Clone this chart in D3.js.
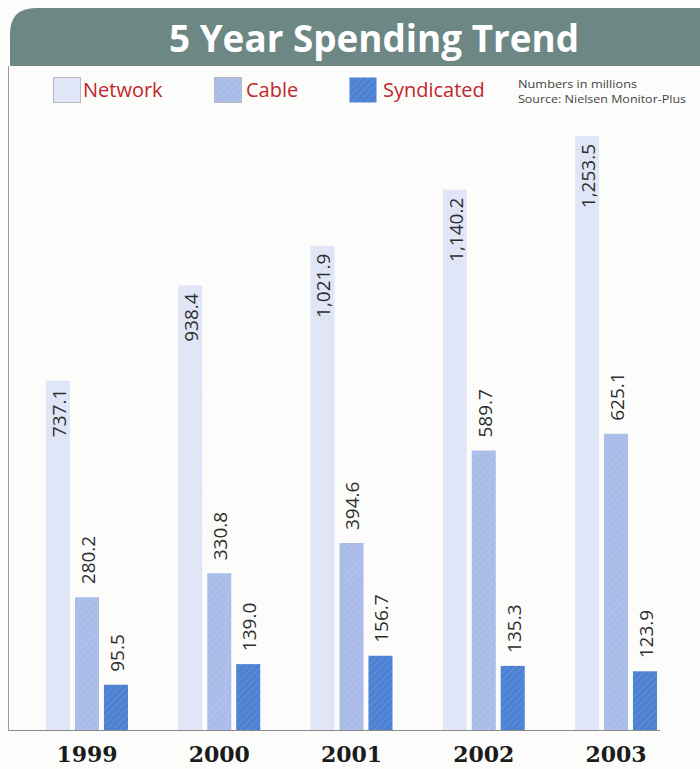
<!DOCTYPE html>
<html>
<head>
<meta charset="utf-8">
<script src="https://cdn.jsdelivr.net/npm/d3@7"></script>
<style>
  html, body { margin: 0; padding: 0; background: #fcfcfa; }
  svg { display: block; }
</style>
</head>
<body>
<svg id="chart" width="700" height="769"></svg>
<script>
// Spending by year, in millions
const years = ["1999", "2000", "2001", "2002", "2003"];
const network = [737.1, 938.4, 1021.9, 1140.2, 1253.5];
const cable = [280.2, 330.8, 394.6, 589.7, 625.1];
const syndicated = [95.5, 139.0, 156.7, 135.3, 123.9];
const seriesNames = ["Network", "Cable", "Syndicated"];
const seriesValues = [network, cable, syndicated];
const seriesColors = ["#dfe5f6", "#a9bbe8", "#4b80d2"];

const svg = d3.select("#chart");
const baseY = 730;

// Header banner with rounded upper-left corner
svg.append("path")
  .attr("d", "M10,66 L10,34 Q10,8 36,8 L700,8 L700,66 Z")
  .attr("fill", "#6d8784");

svg.append("text")
  .attr("x", 374).attr("y", 52)
  .attr("text-anchor", "middle")
  .attr("font-family", "'Open Sans', sans-serif")
  .attr("font-weight", 700)
  .attr("font-size", 37)
  .attr("fill", "#ffffff")
  .attr("textLength", 410)
  .attr("lengthAdjust", "spacingAndGlyphs")
  .text("5 Year Spending Trend");

// Frame: left rule
svg.append("line")
  .attr("x1", 8.5).attr("x2", 8.5).attr("y1", 66).attr("y2", baseY)
  .attr("stroke", "#9a9a9a").attr("stroke-width", 1);

// Fine diagonal texture for the bars
const defs = svg.append("defs");
const pat = defs.append("pattern")
  .attr("id", "hatch")
  .attr("patternUnits", "userSpaceOnUse")
  .attr("width", 5).attr("height", 5)
  .attr("patternTransform", "rotate(45)");
pat.append("rect").attr("width", 1.5).attr("height", 5)
  .attr("fill", "#ffffff").attr("opacity", 0.1);

// Scales
const x0 = d3.scalePoint().domain(years).range([87, 616]);
const x1 = d3.scaleBand().domain(seriesNames).range([-41, 41]).paddingInner(0.17);
const y = d3.scaleLinear().domain([0, 1253.5]).range([baseY, 136]);
const fmt = d3.format(",.1f");

const rows = [];
years.forEach((yr, i) => {
  seriesNames.forEach((s, j) => {
    rows.push({ year: yr, series: s, idx: j, value: seriesValues[j][i] });
  });
});

const g = svg.append("g");
g.selectAll("rect.bar")
  .data(rows)
  .join("rect")
  .attr("class", "bar")
  .attr("x", d => x0(d.year) + x1(d.series))
  .attr("y", d => y(d.value))
  .attr("width", x1.bandwidth())
  .attr("height", d => baseY - y(d.value))
  .attr("fill", d => seriesColors[d.idx]);

g.selectAll("rect.tex")
  .data(rows)
  .join("rect")
  .attr("class", "tex")
  .attr("x", d => x0(d.year) + x1(d.series))
  .attr("y", d => y(d.value))
  .attr("width", x1.bandwidth())
  .attr("height", d => baseY - y(d.value))
  .attr("fill", "url(#hatch)");

// Value labels, rotated; network labels sit inside the top of the bar
g.selectAll("text.val")
  .data(rows)
  .join("text")
  .attr("class", "val")
  .attr("transform", d => {
    const cx = x0(d.year) + x1(d.series) + x1.bandwidth() / 2 + 1;
    const ty = d.idx === 0 ? y(d.value) + 8 : y(d.value) - 13;
    return `translate(${cx},${ty}) rotate(-90)`;
  })
  .attr("text-anchor", d => d.idx === 0 ? "end" : "start")
  .attr("dy", "0.36em")
  .attr("font-family", "'Open Sans', sans-serif")
  .attr("font-size", 19)
  .attr("fill", "#2e2e2e")
  .text(d => fmt(d.value));

// Baseline
svg.append("line")
  .attr("x1", 8).attr("x2", 660).attr("y1", baseY + 0.5).attr("y2", baseY + 0.5)
  .attr("stroke", "#8a8a8a").attr("stroke-width", 1.2);

// Year labels
svg.selectAll("text.year")
  .data(years)
  .join("text")
  .attr("class", "year")
  .attr("x", d => x0(d))
  .attr("y", 762)
  .attr("text-anchor", "middle")
  .attr("font-family", "'DejaVu Serif', serif")
  .attr("font-weight", 700)
  .attr("font-size", 22)
  .attr("fill", "#1b1b1b")
  .text(d => d);

// Legend
const legendX = [53, 214, 349];
const legendTextGap = [30, 32, 34];
const legend = svg.append("g");
seriesNames.forEach((s, j) => {
  legend.append("rect")
    .attr("x", legendX[j] + 0.5).attr("y", 77.5)
    .attr("width", 27).attr("height", 25)
    .attr("fill", seriesColors[j])
    .attr("stroke", j < 2 ? "#b8b8c4" : "none")
    .attr("stroke-width", 1);
  legend.append("rect")
    .attr("x", legendX[j] + 0.5).attr("y", 77.5)
    .attr("width", 27).attr("height", 25)
    .attr("fill", "url(#hatch)");
  legend.append("text")
    .attr("x", legendX[j] + legendTextGap[j]).attr("y", 97)
    .attr("font-family", "'Open Sans', sans-serif")
    .attr("font-size", 20)
    .attr("fill", "#c0272d")
    .text(s);
});

// Notes
const notes = ["Numbers in millions", "Source: Nielsen Monitor-Plus"];
const noteLen = [119, 168];
svg.selectAll("text.note")
  .data(notes)
  .join("text")
  .attr("class", "note")
  .attr("x", 518)
  .attr("y", (d, i) => 88 + i * 15)
  .attr("font-family", "'Open Sans', sans-serif")
  .attr("font-size", 11)
  .attr("fill", "#444444")
  .attr("textLength", (d, i) => noteLen[i])
  .attr("lengthAdjust", "spacingAndGlyphs")
  .text(d => d);
</script>
</body>
</html>
